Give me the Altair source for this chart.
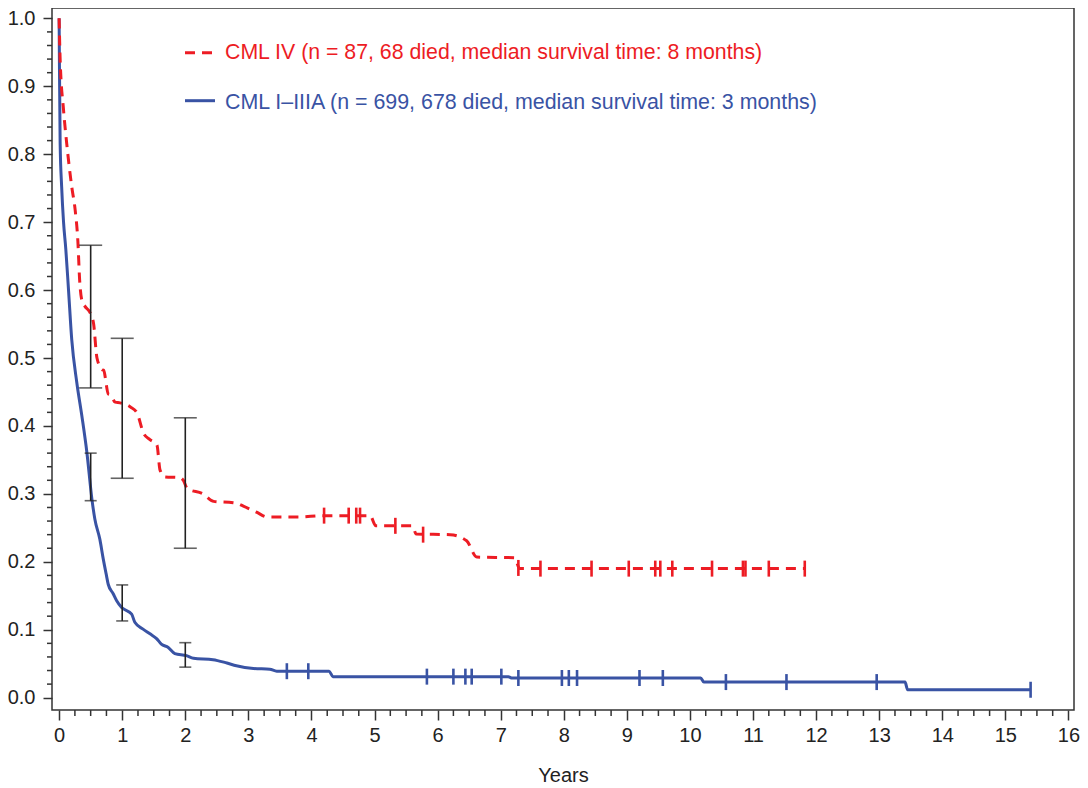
import altair as alt
import pandas as pd

RED = "#ED1C24"
BLUE = "#3953A4"
INK = "#222222"
FONT = "Liberation Sans"

# ---- data ----
red_t = [0, 0.016, 0.07, 0.12, 0.2, 0.254, 0.297, 0.325, 0.36, 0.41, 0.495, 0.547, 0.6,
         0.68, 0.705, 0.78, 0.81, 0.89, 0.965, 1.13, 1.235, 1.34, 1.44, 1.55, 1.6, 1.68,
         1.915, 1.97, 2.03, 2.28, 2.45, 2.76, 2.82, 2.92, 3.13, 3.3, 3.77, 4.2, 4.93, 5.02,
         5.6, 5.66, 6.2, 6.46, 6.62, 7.22, 7.3, 11.82]
red_s = [1.0, 0.94, 0.865, 0.816, 0.752, 0.718, 0.672, 0.615, 0.585, 0.576, 0.566, 0.55, 0.5,
         0.483, 0.482, 0.447, 0.446, 0.435, 0.434, 0.428, 0.419, 0.389, 0.38, 0.372, 0.335, 0.325,
         0.324, 0.32, 0.308, 0.3, 0.289, 0.287, 0.286, 0.282, 0.273, 0.266, 0.266, 0.268, 0.268, 0.253,
         0.253, 0.241, 0.24, 0.231, 0.207, 0.206, 0.19, 0.19]

blue_t = [0, 0.005, 0.016, 0.04, 0.07, 0.106, 0.149, 0.2, 0.28, 0.36, 0.44, 0.52, 0.566, 0.646,
          0.7, 0.75, 0.778, 0.857, 0.91, 0.99, 1.015, 1.15, 1.2, 1.33, 1.44, 1.545, 1.62, 1.73,
          1.835, 2.02, 2.13, 2.44, 2.66, 2.81, 3.08, 3.34, 3.45, 4.28, 4.34, 7.12, 7.18, 10.17,
          10.22, 13.41, 13.45, 15.4]
blue_s = [1.0, 0.93, 0.816, 0.752, 0.70, 0.66, 0.6, 0.527, 0.464, 0.415, 0.361, 0.292, 0.263, 0.233,
          0.204, 0.18, 0.167, 0.153, 0.143, 0.133, 0.131, 0.123, 0.111, 0.101, 0.094, 0.087, 0.079, 0.074,
          0.065, 0.062, 0.058, 0.056, 0.051, 0.047, 0.043, 0.042, 0.039, 0.039, 0.031, 0.031, 0.029, 0.029,
          0.023, 0.023, 0.0117, 0.0117]

red_cens_t = [4.2, 4.59, 4.71, 4.77, 5.33, 5.77, 7.28, 7.63, 8.44, 9.03, 9.45, 9.53, 9.72,
              10.35, 10.84, 10.88, 11.25, 11.82]
red_cens_s = [0.268, 0.268, 0.268, 0.268, 0.253, 0.24, 0.191, 0.19, 0.19, 0.19, 0.19, 0.19, 0.19,
              0.19, 0.19, 0.19, 0.19, 0.19]

blue_cens_t = [3.61, 3.95, 5.83, 6.25, 6.44, 6.54, 7.01, 7.28, 7.97, 8.08, 8.21, 9.2, 9.57,
               10.57, 11.53, 12.96, 15.4]
blue_cens_s = [0.039, 0.039, 0.031, 0.031, 0.031, 0.031, 0.031, 0.029, 0.029, 0.029, 0.029, 0.029, 0.029,
               0.023, 0.023, 0.023, 0.0117]

ci_t = [0.5, 1, 2]
red_ci_lo = [0.456, 0.323, 0.220]
red_ci_hi = [0.666, 0.529, 0.412]
blue_ci_lo = [0.290, 0.113, 0.045]
blue_ci_hi = [0.360, 0.166, 0.081]

x_ticks = list(range(0, 17))
y_ticks = [0.0, 0.1, 0.2, 0.3, 0.4, 0.5, 0.6, 0.7, 0.8, 0.9, 1.0]
x_minor = [i / 4 for i in range(0, 65) if i % 4 != 0]
y_minor = [i / 50 for i in range(0, 51) if i % 5 != 0]

legend_labels = ["CML IV (n = 87, 68 died, median survival time: 8 months)",
                 "CML I\u2013IIIA (n = 699, 678 died, median survival time: 3 months)"]

W, H = 1022, 702
xs = alt.Scale(domain=[-0.113, 16.088], nice=False, zero=False)
ys = alt.Scale(domain=[-0.0181, 1.0152], nice=False, zero=False)
AX = alt.Axis(values=x_ticks, format="d", title="Years", tickSize=10, labelPadding=5,
              titlePadding=20, labelFlush=False)
AY = alt.Axis(values=y_ticks, format=".1f", title=None, tickSize=9, labelPadding=8,
              labelFlush=False)


def X(f):
    return alt.X(f, type="quantitative", scale=xs, axis=AX)


def Y(f):
    return alt.Y(f, type="quantitative", scale=ys, axis=AY)


red_df = pd.DataFrame({"t": red_t, "s": red_s})
blue_df = pd.DataFrame({"t": blue_t, "s": blue_s})

blue_line = alt.Chart(blue_df).mark_line(color=BLUE, strokeWidth=3, interpolate="monotone").encode(
    x=X("t"), y=Y("s"))
red_line = alt.Chart(red_df).mark_line(color=RED, strokeWidth=3, strokeDash=[10, 7],
                                        interpolate="monotone").encode(x=X("t"), y=Y("s"))

ci_layers = []
for lo, hi, cap in [(red_ci_lo, red_ci_hi, 23), (blue_ci_lo, blue_ci_hi, 12)]:
    d = pd.DataFrame({"t": ci_t, "lo": lo, "hi": hi})
    base = alt.Chart(d)
    ci_layers.append(base.mark_rule(color=INK, strokeWidth=1.6).encode(x=X("t"), y=Y("lo"), y2="hi"))
    ci_layers.append(base.mark_tick(color=INK, orient="horizontal", size=cap, thickness=1.6).encode(
        x=X("t"), y=Y("lo")))
    ci_layers.append(base.mark_tick(color=INK, orient="horizontal", size=cap, thickness=1.6).encode(
        x=X("t"), y=Y("hi")))

red_cens = alt.Chart(pd.DataFrame({"t": red_cens_t, "s": red_cens_s})).mark_tick(
    color=RED, orient="vertical", size=16, thickness=2.6, opacity=1).encode(x=X("t"), y=Y("s"))
blue_cens = alt.Chart(pd.DataFrame({"t": blue_cens_t, "s": blue_cens_s})).mark_tick(
    color=BLUE, orient="vertical", size=16, thickness=2.6, opacity=1).encode(x=X("t"), y=Y("s"))

x_minor_layer = alt.Chart(pd.DataFrame({"t": x_minor})).mark_rule(color="#333333", strokeWidth=1.5).encode(
    x=X("t"), y=alt.value(H), y2=alt.value(H + 6))
y_minor_layer = alt.Chart(pd.DataFrame({"s": y_minor})).mark_rule(color="#333333", strokeWidth=1.5).encode(
    y=Y("s"), x=alt.value(0), x2=alt.value(-5))

leg_red_line = alt.Chart(pd.DataFrame({"k": [0]})).mark_rule(
    color=RED, strokeWidth=3, strokeDash=[10, 7]).encode(
    x=alt.value(133), x2=alt.value(160), y=alt.value(44.7))
leg_blue_line = alt.Chart(pd.DataFrame({"k": [0]})).mark_rule(
    color=BLUE, strokeWidth=3).encode(x=alt.value(133), x2=alt.value(163), y=alt.value(92.7))
leg_red_text = alt.Chart(pd.DataFrame({"label": [legend_labels[0]]})).mark_text(
    align="left", baseline="alphabetic", font=FONT, fontSize=21.3, color=RED).encode(
    x=alt.value(173), y=alt.value(51.3), text="label:N")
leg_blue_text = alt.Chart(pd.DataFrame({"label": [legend_labels[1]]})).mark_text(
    align="left", baseline="alphabetic", font=FONT, fontSize=21.4, color=BLUE).encode(
    x=alt.value(173), y=alt.value(100.7), text="label:N")

chart = alt.layer(
    blue_line, red_line, *ci_layers, red_cens, blue_cens, x_minor_layer, y_minor_layer,
    leg_red_line, leg_blue_line, leg_red_text, leg_blue_text,
).properties(
    width=W, height=H,
    autosize=alt.AutoSizeParams(type="none"),
    padding={"left": 44, "top": 0, "right": 6, "bottom": 78},
    background="white",
).configure_view(
    stroke="#333333", strokeWidth=1.5,
).configure_axis(
    grid=False, domain=False,
    labelFont=FONT, labelFontSize=20, labelColor=INK,
    titleFont=FONT, titleFontSize=20, titleColor=INK, titleFontWeight="normal",
    tickColor="#333333", tickWidth=1.5,
)

chart.save("out.html", embed_options={"renderer": "svg", "actions": False})
